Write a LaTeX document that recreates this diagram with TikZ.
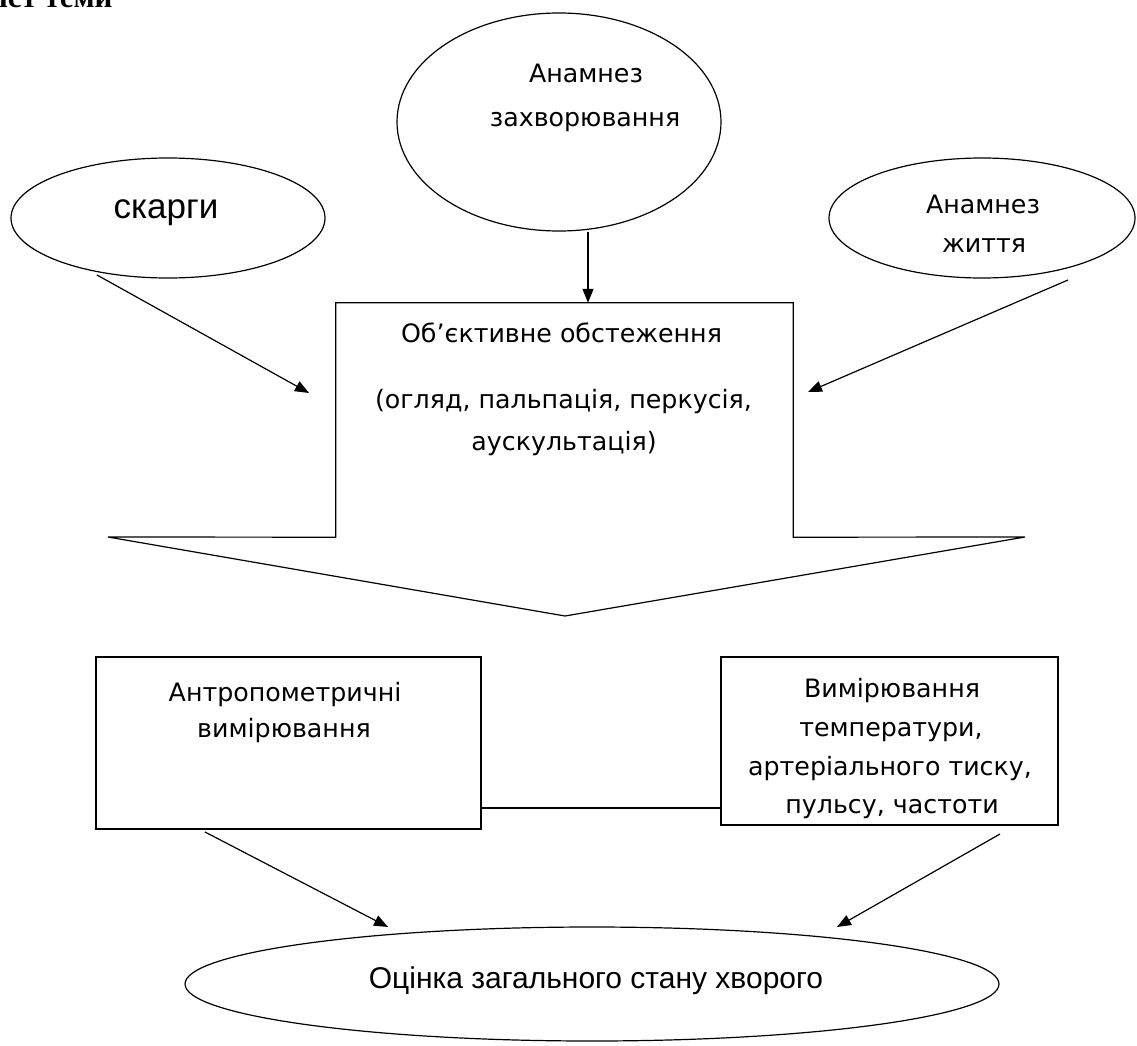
\documentclass[tikz,border=0pt]{standalone}
\usepackage{fontspec}
\setmainfont{DejaVu Sans}
\newfontfamily\headfont{Liberation Serif}
\newfontfamily\arialfont{Liberation Sans}
\usetikzlibrary{shapes.geometric,arrows.meta,calc}
\begin{document}
\begin{tikzpicture}[x=1pt,y=-1pt,
  line/.style={draw=black,line width=1.2pt},
  arr/.style={line,-{Triangle[length=14pt,width=11pt]}},
  oval/.style={ellipse,line,inner sep=0pt},
  box/.style={rectangle,line,inner sep=0pt},
  txt/.style={anchor=base,inner sep=0pt,font=\fontsize{25.3}{28}\selectfont},
  big/.style={anchor=base,inner sep=0pt,font=\arialfont\fontsize{35}{38}\selectfont},
  low/.style={anchor=base,inner sep=0pt,font=\arialfont\fontsize{30}{34}\selectfont}]
\useasboundingbox (0,0) rectangle (1137,1046);

% heading, partly above the page edge
\node[anchor=base west,inner sep=0pt,font=\headfont\bfseries\fontsize{31}{34}\selectfont] (head) at (-1,8) {іст теми};

% source ovals
\node[oval,minimum width=324pt,minimum height=218pt] (zab) at (559,122) {};
\node[oval,minimum width=314pt,minimum height=120pt] (skar) at (168,218) {};
\node[oval,minimum width=306pt,minimum height=120pt] (zhyt) at (982,218) {};

\node[txt] (zab1) at (586,83) {Анамнез};
\node[txt] (zab2) at (585,127) {захворювання};
\node[big] (skt) at (166,218) {скарги};
\node[txt] (zh1) at (983,213) {Анамнез};
\node[txt] (zh2) at (984,252) {життя};

% block arrow of the objective examination
\node[minimum width=457pt,minimum height=234pt,inner sep=0pt] (obj) at (564.5,420) {};
\draw[line,line join=miter] (obj.south west) -- (obj.north west) -- (obj.north east) -- (obj.south east)
  -- (1025,537) -- (565,616) -- (108,537) -- cycle;
\node[txt] (ob1) at (561.5,342) {Об’єктивне обстеження};
\node[txt] (ob2) at (563.5,408) {(огляд, пальпація, перкусія,};
\node[txt] (ob3) at (564,450) {аускультація)};

\coordinate (inL) at (309,393);
\coordinate (inR) at (808,392);
\coordinate (outL) at (97,275);
\coordinate (outR) at (1068,280);
\draw[arr] (zab.south -| 588,0) -- (obj.north -| 588,0);
\draw[arr] (outL) -- (inL);
\draw[arr] (outR) -- (inR);

% measurement boxes
\node[box,minimum width=385pt,minimum height=172pt] (ant) at (288.5,743) {};
\node[box,minimum width=337pt,minimum height=168pt] (vym) at (889.5,741) {};
\node[txt] (an1) at (285,701) {Антропометричні};
\node[txt] (an2) at (284,737) {вимірювання};
\node[txt] (vy1) at (892,697) {Вимірювання};
\node[txt] (vy2) at (891,736) {температури,};
\node[txt] (vy3) at (890,775) {артеріального тиску,};
\node[txt] (vy4) at (892,813) {пульсу, частоти};

\coordinate (link) at (600,808);
\draw[line] (ant.east |- link) -- (vym.west |- link);

% overall assessment
\node[oval,minimum width=814pt,minimum height=114pt] (ots) at (592,984) {};
\node[low] (ot) at (596,988) {Оцінка загального стану хворого};

\coordinate (fromA) at (205,832);
\coordinate (fromV) at (1000,834);
\coordinate (toA) at (388,927);
\coordinate (toV) at (837,927);
\draw[arr] (fromA) -- (toA);
\draw[arr] (fromV) -- (toV);
\end{tikzpicture}
\end{document}
